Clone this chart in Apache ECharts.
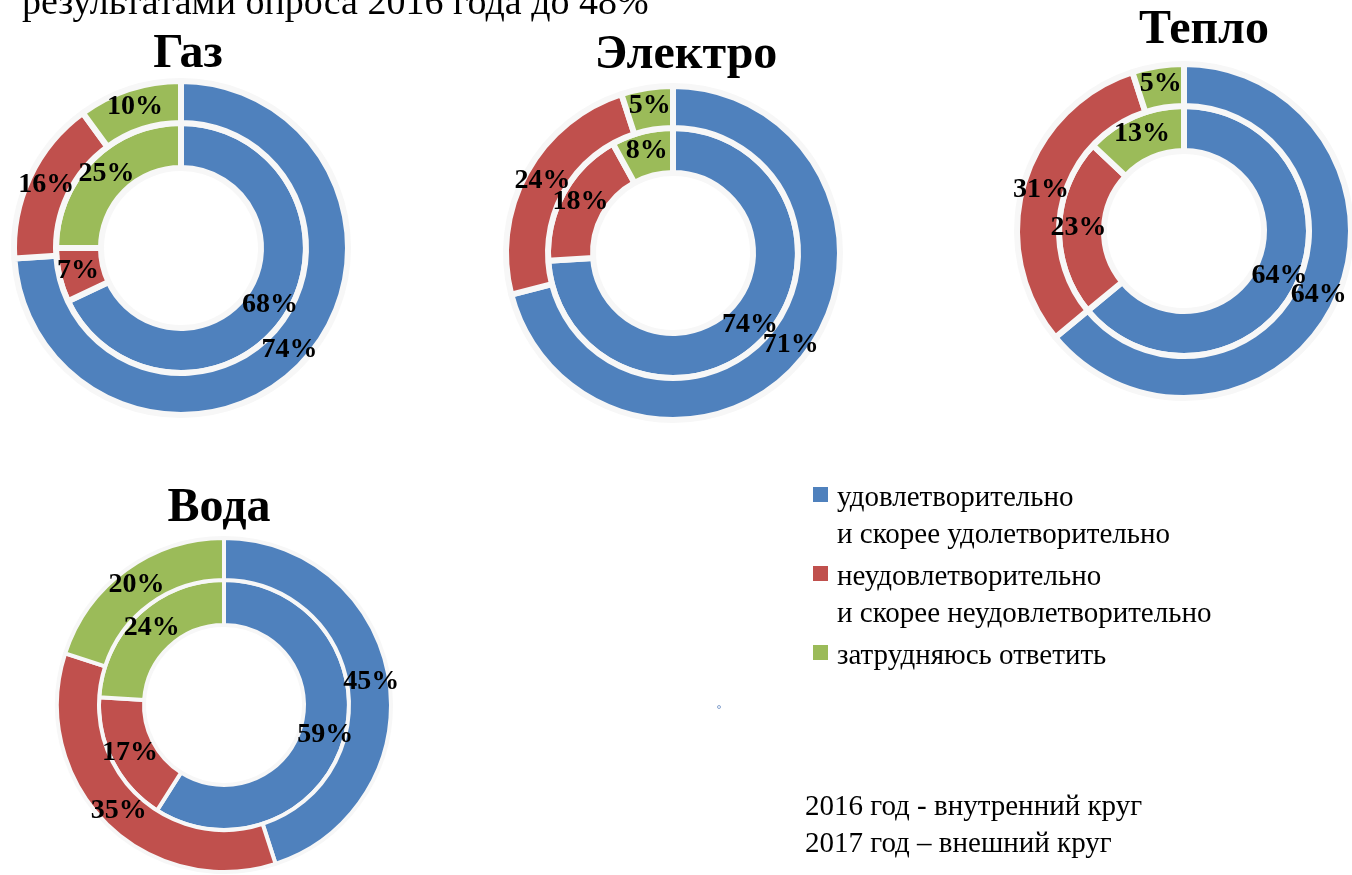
<!DOCTYPE html>
<html>
<head>
<meta charset="utf-8">
<script src="https://cdn.jsdelivr.net/npm/echarts@6/dist/echarts.min.js"></script>
<style>
  html, body { margin: 0; padding: 0; background: #fff; }
  #main { width: 1352px; height: 875px; }
</style>
</head>
<body>
<div id="main"></div>
<script>
// категории и данные
var categories = ['удовлетворительно\nи скорее удолетворительно',
                  'неудовлетворительно\nи скорее неудовлетворительно',
                  'затрудняюсь ответить'];
var titles = ['Газ', 'Электро', 'Тепло', 'Вода'];
var values2016 = [[68, 7, 25], [74, 18, 8], [64, 23, 13], [59, 17, 24]]; // внутренний круг
var values2017 = [[74, 16, 10], [71, 24, 5], [64, 31, 5], [45, 35, 20]]; // внешний круг
var notes = ['2016 год - внутренний круг', '2017 год – внешний круг'];
var headText = 'результатами опроса 2016 года до 48%';

var colors = ['#4f81bd', '#c0504d', '#9bbb59'];
var centers = [[181, 248], [673, 253], [1184, 231], [224, 705]];
var titlePos = [[188, 55], [686, 56], [1204, 31], [219, 509]];
var serif = '"Liberation Serif", "Times New Roman", serif';

var myChart = echarts.init(document.getElementById('main'));

function ring(vals, radius, center, bw) {
    return {
        type: 'pie',
        radius: radius,
        center: center,
        startAngle: 90,
        clockwise: true,
        silent: true,
        animation: false,
        avoidLabelOverlap: false,
        labelLayout: { hideOverlap: false },
        itemStyle: {
            borderColor: '#f7f7f7',
            borderWidth: bw
        },
        label: {
            show: true,
            position: 'inside',
            formatter: '{c}%',
            color: '#000',
            fontFamily: serif,
            fontWeight: 'bold',
            fontSize: 28,
            textBorderWidth: 0
        },
        labelLine: { show: false },
        data: vals.map(function (v, k) {
            return { name: categories[k], value: v, itemStyle: { color: colors[k] } };
        })
    };
}

var series = [];
for (var i = 0; i < titles.length; i++) {
    var bw = i === 3 ? 4 : 6;
    series.push(ring(values2016[i], [80, 125], centers[i], bw));
    series.push(ring(values2017[i], [125, 167], centers[i], bw));
}

var graphic = [];
graphic.push({
    type: 'text', x: 22, y: 4,
    style: { text: headText, font: '38px ' + serif, fill: '#000', textVerticalAlign: 'middle' }
});
titles.forEach(function (t, i) {
    graphic.push({
        type: 'text', x: titlePos[i][0], y: titlePos[i][1],
        style: { text: t, font: 'bold 48px ' + serif, fill: '#000',
                 textAlign: 'center', textVerticalAlign: 'middle' }
    });
});
// легенда
var legendY = [487, 566, 645];
categories.forEach(function (c, k) {
    graphic.push({
        type: 'rect', shape: { x: 813, y: legendY[k], width: 15, height: 15 },
        style: { fill: colors[k] }
    });
    graphic.push({
        type: 'text', x: 837, y: legendY[k] - 7.5,
        style: { text: c, font: '29px ' + serif, fill: '#000',
                 lineHeight: 37, textVerticalAlign: 'top' }
    });
});
notes.forEach(function (n, k) {
    graphic.push({
        type: 'text', x: 805, y: 807 + k * 37,
        style: { text: n, font: '29px ' + serif, fill: '#000', textVerticalAlign: 'middle' }
    });
});
graphic.push({
    type: 'circle', shape: { cx: 719, cy: 707, r: 1.5 },
    style: { fill: 'none', stroke: '#8aa6d0', lineWidth: 1 }
});

var option = {
    backgroundColor: '#fff',
    animation: false,
    series: series,
    graphic: graphic
};
myChart.setOption(option);
window.onresize = function () {
    myChart.resize();
};
</script>
</body>
</html>
